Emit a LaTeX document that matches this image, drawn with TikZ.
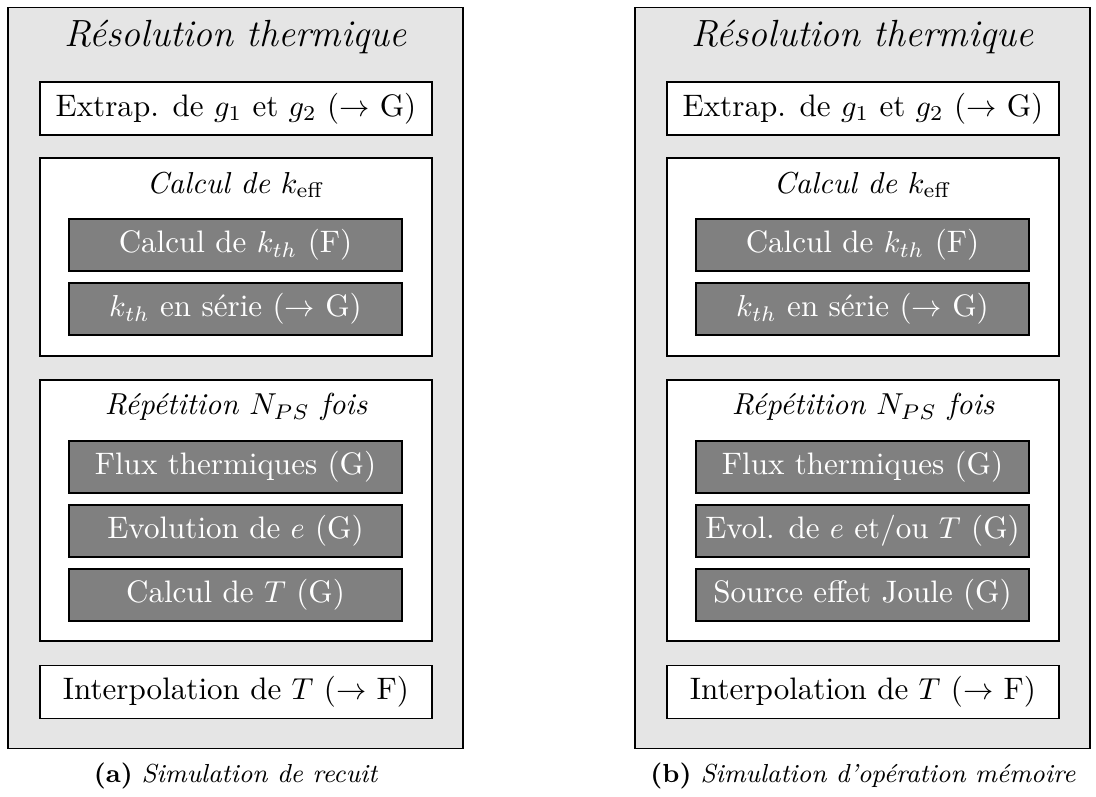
\documentclass[tikz,border=0pt]{standalone}
\usepackage{amsmath}
\usepackage{xcolor}
\usepackage{tikz}
\usetikzlibrary{positioning}

\begin{document}
\begin{tikzpicture}[
    x=0.33pt, y=-0.33pt,
    font=\fontsize{10.25}{12}\selectfont,
    panel/.style={draw, fill=gray!20, minimum width=150.15pt, minimum height=244.5pt},
    title/.style={font=\fontsize{12.5}{15}\selectfont\itshape},
    stepbox/.style={draw, fill=white, minimum width=129.4pt, minimum height=17.5pt},
    loopbox/.style={draw, fill=white, minimum width=129.4pt},
    task/.style={draw, fill=gray, text=white, inner xsep=1pt, minimum width=109.9pt, minimum height=17.2pt},
    subcap/.style={font=\fontsize{8.6}{10}\selectfont}
]
\useasboundingbox (0,0) rectangle (1096,796);

% (a) recuit
\node[panel] (outa) at (235.5,378) {};
\node[title] (tita) at (235.5,37) {Résolution thermique};
\node[stepbox] (extra) at (236,108.5) {Extrap. de $g_1$ et $g_2$ ($\rightarrow$ G)};
\node[loopbox, minimum height=65.3pt] (keffa) at (236,257) {};
\node[font=\itshape] (tkeffa) at (236,185) {Calcul de $k_\mathrm{eff}$};
\node[task] (kth1a) at (235.5,245) {Calcul de $k_{th}$ (F)};
\node[task] (kth2a) at (235.5,309) {$k_{th}$ en série ($\rightarrow$ G)};
\node[loopbox, minimum height=86.1pt] (repa) at (236,510.5) {};
\node[font=\itshape] (trepa) at (236,407) {Répétition $N_{PS}$ fois};
\node[task] (fluxa) at (235.5,467) {Flux thermiques (G)};
\node[task] (evola) at (235.5,531) {Evolution de $e$ (G)};
\node[task] (calta) at (235.5,595) {Calcul de $T$ (G)};
\node[stepbox] (interpa) at (236,692) {Interpolation de $T$ ($\rightarrow$ F)};
\node[subcap] (capa) at (236,776) {\textbf{(a)} \textit{Simulation de recuit}};

% (b) operation memoire
\begin{scope}[xshift=627*0.33pt]
\node[panel] (outb) at (235.5,378) {};
\node[title] (titb) at (235.5,37) {Résolution thermique};
\node[stepbox] (extrb) at (236,108.5) {Extrap. de $g_1$ et $g_2$ ($\rightarrow$ G)};
\node[loopbox, minimum height=65.3pt] (keffb) at (236,257) {};
\node[font=\itshape] (tkeffb) at (236,185) {Calcul de $k_\mathrm{eff}$};
\node[task] (kth1b) at (235.5,245) {Calcul de $k_{th}$ (F)};
\node[task] (kth2b) at (235.5,309) {$k_{th}$ en série ($\rightarrow$ G)};
\node[loopbox, minimum height=86.1pt] (repb) at (236,510.5) {};
\node[font=\itshape] (trepb) at (236,407) {Répétition $N_{PS}$ fois};
\node[task] (fluxb) at (235.5,467) {Flux thermiques (G)};
\node[task] (evolb) at (235.5,531) {Evol. de $e$ et/ou $T$ (G)};
\node[task] (jouleb) at (235.5,595) {Source effet Joule (G)};
\node[stepbox] (interpb) at (236,692) {Interpolation de $T$ ($\rightarrow$ F)};
\node[subcap] (capb) at (236,776) {\textbf{(b)} \textit{Simulation d'opération mémoire}};
\end{scope}
\end{tikzpicture}
\end{document}
